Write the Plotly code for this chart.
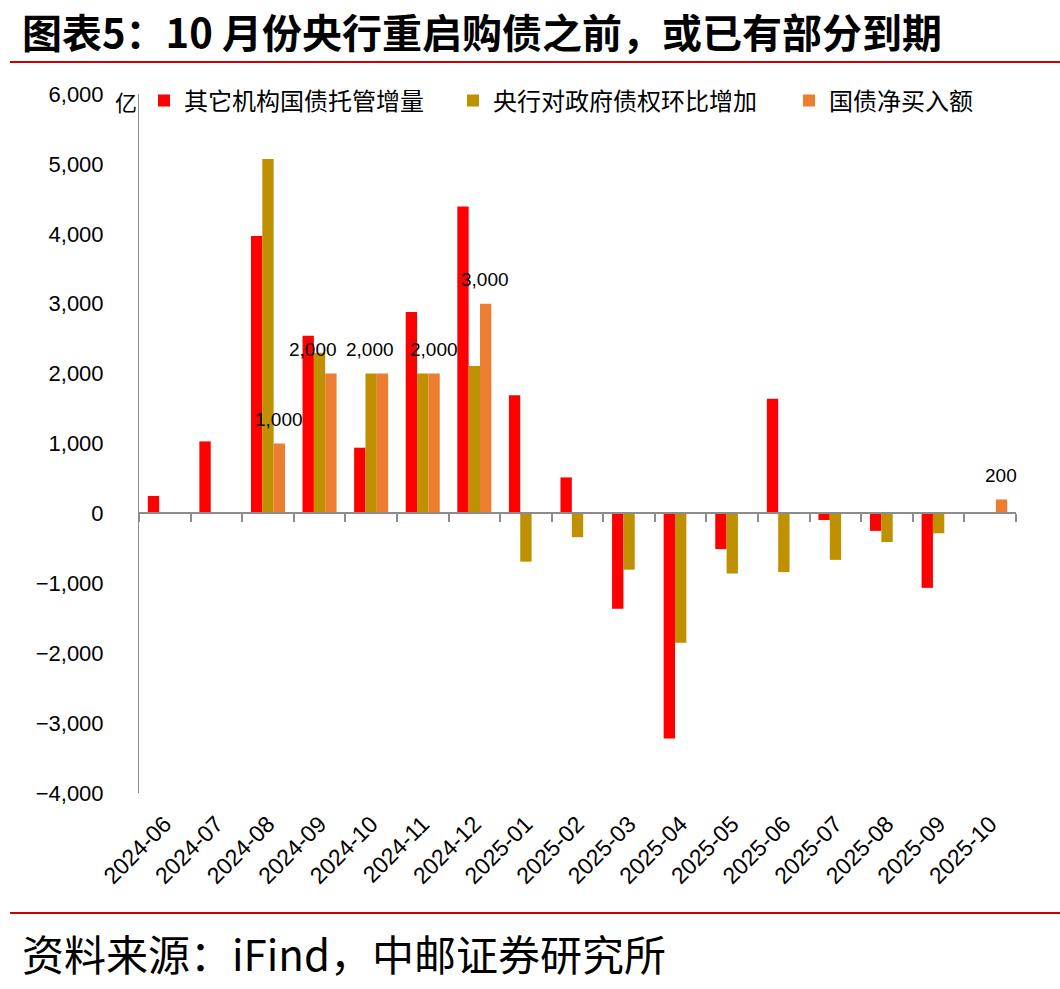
import plotly.graph_objects as go

# ---------------- data ----------------
months = ["2024-06", "2024-07", "2024-08", "2024-09", "2024-10", "2024-11", "2024-12",
          "2025-01", "2025-02", "2025-03", "2025-04", "2025-05", "2025-06", "2025-07",
          "2025-08", "2025-09", "2025-10"]
other_inst_custody = [250, 1030, 3970, 2540, 940, 2880, 4390, 1690, 515, -1365,
                      -3220, -510, 1640, -95, -250, -1065, None]
pboc_gov_claims = [None, None, 5070, 2300, 2000, 2000, 2110, -690, -340, -805,
                   -1850, -860, -840, -665, -410, -285, None]
net_bond_purchase = [None, None, 1000, 2000, 2000, 2000, 3000, None, None, None,
                     None, None, None, None, None, None, 200]
series_names = ["其它机构国债托管增量", "央行对政府债权环比增加", "国债净买入额"]
y_tick_values = [-4000, -3000, -2000, -1000, 0, 1000, 2000, 3000, 4000, 5000, 6000]

# ---------------- style ----------------
COLORS = ["#FF0000", "#BF9000", "#ED7D31"]
CJK = "Noto Sans CJK SC"
NUM = "Liberation Sans"
W_PX, H_PX = 1060, 989
L, R, T, B = 139, 1016, 94, 793
label_xshift = [11, -7, -1, 11, 11, 11]   # per-label nudges (px) for orange labels
legend_left_px = [144, 453, 789]          # left edge of each legend entry
legend_ids = ["legend", "legend2", "legend3"]


def px_x(p):
    return (p - L) / (R - L)


def px_y(p):
    return (B - p) / (B - T)


def fmt(v):
    return f"{v:,}".replace("-", "\u2212")


fig = go.Figure()
for name, vals, col, lg in zip(series_names,
                               [other_inst_custody, pboc_gov_claims, net_bond_purchase],
                               COLORS, legend_ids):
    fig.add_trace(go.Bar(x=months, y=vals, name=name, marker_color=col,
                         marker_line_width=0, legend=lg))

# invisible helper trace so the bottom label axis is drawn
fig.add_trace(go.Scatter(x=months, y=[None] * len(months), xaxis="x2",
                         showlegend=False, hoverinfo="skip", mode="markers"))

# data labels on the orange series
k = 0
for m, v in zip(months, net_bond_purchase):
    if v is None:
        continue
    fig.add_annotation(x=m, y=v, xref="x", yref="y", text=fmt(v),
                       showarrow=False, xanchor="center", yanchor="middle",
                       xshift=label_xshift[k], yshift=24,
                       font=dict(family=NUM, size=19, color="black"))
    k += 1

# title
fig.add_annotation(x=px_x(20), y=px_y(31), xref="paper", yref="paper",
                   text="<b>图表5：10 月份央行重启购债之前，或已有部分到期</b>",
                   showarrow=False, xanchor="left", yanchor="middle",
                   font=dict(family=CJK, size=40, color="black"))

# unit label
fig.add_annotation(x=px_x(126), y=px_y(101), xref="paper", yref="paper",
                   text="亿", showarrow=False, xanchor="center", yanchor="middle",
                   font=dict(family=CJK, size=22, color="black"))

# footer
fig.add_annotation(x=px_x(20), y=px_y(953), xref="paper", yref="paper",
                   text="资料来源：iFind，中邮证券研究所", showarrow=False,
                   xanchor="left", yanchor="middle",
                   font=dict(family=CJK, size=42, color="black"))

# red rules
for yy in (62, 913):
    fig.add_shape(type="line", xref="paper", yref="paper",
                  x0=px_x(10), x1=px_x(1060), y0=px_y(yy), y1=px_y(yy),
                  line=dict(color="#CC0000", width=2))

legend_common = dict(orientation="h", y=px_y(101), xanchor="left", yanchor="middle",
                     font=dict(family=CJK, size=24, color="black"),
                     itemwidth=30, bgcolor="rgba(0,0,0,0)")
legend_layout = {lg: dict(x=px_x(xp), **legend_common)
                 for lg, xp in zip(legend_ids, legend_left_px)}

fig.update_layout(
    width=W_PX, height=H_PX,
    margin=dict(l=L, r=W_PX - R, t=T, b=H_PX - B, pad=0),
    paper_bgcolor="white", plot_bgcolor="white",
    barmode="group", bargap=0.34, bargroupgap=0,
    xaxis=dict(type="category", categoryorder="array", categoryarray=months,
               range=[-0.5, len(months) - 0.5],
               anchor="free", position=0.4,
               showline=True, linecolor="#8C8C8C", linewidth=2,
               ticks="outside", tickson="boundaries", ticklen=8, tickwidth=2,
               tickcolor="#8C8C8C", showticklabels=False,
               showgrid=False, zeroline=False),
    xaxis2=dict(type="category", categoryorder="array", categoryarray=months,
                range=[-0.5, len(months) - 0.5], overlaying="x", anchor="y",
                side="bottom", showline=False, ticks="", showgrid=False,
                zeroline=False, tickangle=-45, ticklabelstandoff=12,
                tickfont=dict(family=NUM, size=23, color="black")),
    yaxis=dict(range=[-4000, 6000], tickmode="array", tickvals=y_tick_values,
               ticktext=[fmt(v) for v in y_tick_values],
               showline=True, linecolor="#8C8C8C", linewidth=1, ticks="",
               showgrid=False, zeroline=False, ticklabelstandoff=30,
               tickfont=dict(family=NUM, size=22, color="black")),
    showlegend=True,
    **legend_layout,
)

fig.write_html("out.html")
